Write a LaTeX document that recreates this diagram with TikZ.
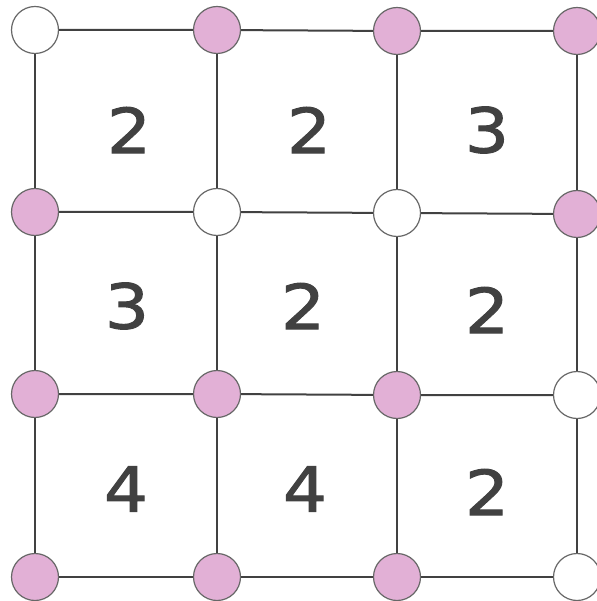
\documentclass[tikz,border=0pt]{standalone}
\usepackage{fontspec}
\setmainfont{DejaVu Sans}
\newfontfamily\numfont[FakeBold=1.6,FakeStretch=1.12]{DejaVu Sans}
\definecolor{dotpink}{RGB}{226,176,214}
\definecolor{gridgray}{RGB}{65,65,65}
\begin{document}
\begin{tikzpicture}[x=1pt,y=-1pt,
    pt/.style={circle, draw=gridgray!80, line width=1.2pt, minimum size=47pt, inner sep=0pt},
    dot/.style={pt, fill=dotpink},
    hole/.style={pt, fill=white},
    num/.style={text=gridgray, font=\numfont\fontsize{62}{62}\selectfont},
    edge/.style={draw=gridgray, line width=2pt}]
    \useasboundingbox (0,0) rectangle (596,601);
    % Grid points (row, column)
    \node[hole] (p11) at (35,30) {};
    \node[dot]  (p12) at (217,30) {};
    \node[dot]  (p13) at (397,31) {};
    \node[dot]  (p14) at (577,31) {};
    \node[dot]  (p21) at (35,212) {};
    \node[hole] (p22) at (217,212) {};
    \node[hole] (p23) at (397,213) {};
    \node[dot]  (p24) at (577,214) {};
    \node[dot]  (p31) at (35,394) {};
    \node[dot]  (p32) at (217,394) {};
    \node[dot]  (p33) at (397,395) {};
    \node[hole] (p34) at (577,395) {};
    \node[dot]  (p41) at (35,577) {};
    \node[dot]  (p42) at (217,577) {};
    \node[dot]  (p43) at (397,577) {};
    \node[hole] (p44) at (577,577) {};
    % Horizontal lines
    \draw[edge] (p11) -- (p12) -- (p13) -- (p14);
    \draw[edge] (p21) -- (p22) -- (p23) -- (p24);
    \draw[edge] (p31) -- (p32) -- (p33) -- (p34);
    \draw[edge] (p41) -- (p42) -- (p43) -- (p44);
    % Vertical lines
    \draw[edge] (p11) -- (p21) -- (p31) -- (p41);
    \draw[edge] (p12) -- (p22) -- (p32) -- (p42);
    \draw[edge] (p13) -- (p23) -- (p33) -- (p43);
    \draw[edge] (p14) -- (p24) -- (p34) -- (p44);
    % Cell numbers
    \node[num] (c11) at (129,130) {2};
    \node[num] (c12) at (309,130) {2};
    \node[num] (c13) at (487,130) {3};
    \node[num] (c21) at (127,306) {3};
    \node[num] (c22) at (303,306) {2};
    \node[num] (c23) at (487,310) {2};
    \node[num] (c31) at (126,489) {4};
    \node[num] (c32) at (305,489) {4};
    \node[num] (c33) at (487,492) {2};
\end{tikzpicture}
\end{document}
